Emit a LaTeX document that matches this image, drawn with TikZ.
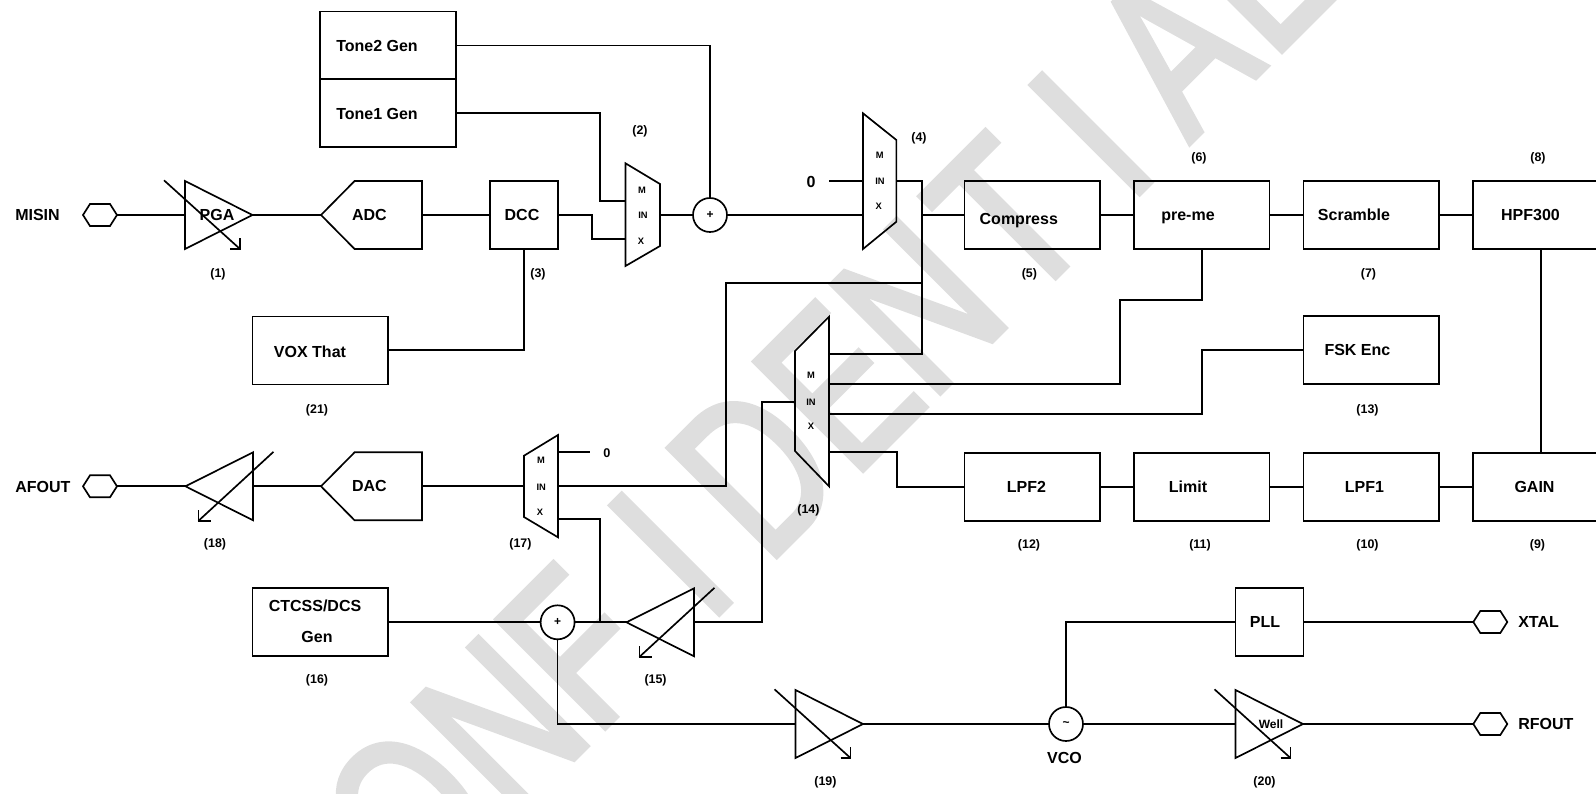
\documentclass[tikz,border=0pt]{standalone}
\usepackage{fontspec}
\setmainfont{Liberation Sans}
\newfontfamily\wmfont[FakeStretch=0.735,FakeBold=2.5]{Liberation Sans}
\tikzset{
  wire/.style={line width=1.25pt,black,line join=miter},
  blk/.style={draw,line width=1.25pt,minimum width=101.6pt,minimum height=51pt,inner sep=0pt,outer sep=0pt},
  sblk/.style={blk,minimum width=51pt},
  sumn/.style={circle,draw,line width=1.25pt,minimum size=25.5pt,inner sep=0pt,outer sep=0pt,font=\fontsize{9}{9}\selectfont\bfseries},
  txt/.style={font=\fontsize{12}{14}\selectfont\bfseries,inner sep=0pt,text height=8.3pt,text depth=0pt},
  tag/.style={font=\fontsize{9.3}{11}\selectfont\bfseries,inner sep=0pt},
  mx/.style={font=\fontsize{7}{8}\selectfont\bfseries,inner sep=0pt},
  wm/.style={font=\wmfont\fontsize{167}{167}\selectfont,text=black!13,inner sep=0pt,rotate=45,anchor=base west}
}
\newcommand\hexport[3]{\begin{scope}[shift={(#2,#3)}]
  \coordinate (#1) at (0,0);\coordinate (#1L) at (-17,0);\coordinate (#1R) at (17,0);
  \draw[wire] (#1L) -- (-10,-11) -- (10,-11) -- (#1R) -- (10,11) -- (-10,11) -- cycle;
\end{scope}}
\newcommand\ampright[3]{\begin{scope}[shift={(#2,#3)}]
  \coordinate (#1L) at (0,0);\coordinate (#1R) at (67.5,0);\coordinate (#1) at (32,0);
  \draw[wire] (0,-34) -- (#1R) -- (0,34) -- cycle;
  \draw[wire] (-21,-34.7) -- (55,34);
  \draw[wire] (45,34) -- (55,34) -- (55,23.3);
\end{scope}}
\newcommand\ampleft[3]{\begin{scope}[shift={(#2,#3)}]
  \coordinate (#1R) at (0,0);\coordinate (#1L) at (-67.5,0);
  \draw[wire] (0,-34) -- (#1L) -- (0,34) -- cycle;
  \draw[wire] (20.5,-34.5) -- (-54.5,34.5);
  \draw[wire] (-42.5,34.5) -- (-54.5,34.5) -- (-54.5,23.5);
\end{scope}}
\newcommand\conv[4]{\begin{scope}[shift={(#2,#3)}]
  \coordinate (#1L) at (0,0);\coordinate (#1R) at (101,0);
  \draw[wire] (#1L) -- (33.6,-34) -- (101,-34) -- (101,34) -- (33.6,34) -- cycle;
  \node[txt] (#1T) at (48.4,0) {#4};
\end{scope}}
\newcommand\kp[1]{\kern #1pt\relax}
\begin{document}
\begin{tikzpicture}[x=0.75pt,y=-0.75pt]
\useasboundingbox (0,0) rectangle (1596,793);
\clip (0,0) rectangle (1596,793);
\node[wm] (wmark) at (331.3,1001.6) {C\kp{4}O\kp{4.2}N\kp{-0.7}F\kp{44.7}I\kp{28.1}D\kp{3.1}EN\kp{12}T\kp{34.5}I\kp{30.4}A\kp{5.8}L};

% blocks
\node[blk] (t2) at (388,45.5) {};
\node[blk] (t1) at (388,113) {};
\node[sblk] (dcc) at (524,215) {};
\node[blk] (vox) at (320.3,350.5) {};
\node[blk] (comp) at (1032.3,215) {};
\node[blk] (prem) at (1201.8,215) {};
\node[blk] (scr) at (1371.3,215) {};
\node[blk] (hpf) at (1540.8,215) {};
\node[blk] (fsk) at (1371.3,350) {};
\node[blk] (lpf2) at (1032.3,487) {};
\node[blk] (lim) at (1201.8,487) {};
\node[blk] (lpf1) at (1371.3,487) {};
\node[blk] (gain) at (1540.8,487) {};
\node[blk] (ctc) at (320.3,622.3) {};
\node[sblk] (pll) at (1269.5,622) {};
\node[sumn] (s1) at (710,215) {+};
\node[sumn] (s2) at (557.6,622.3) {+};
\node[sumn] (vco) at (1066,724) {\textasciitilde};

\hexport{misin}{100}{215}
\hexport{afout}{100}{486.3}
\hexport{xtal}{1490.3}{622}
\hexport{rfout}{1490.3}{724}
\ampright{pga}{185}{215}
\ampright{ag}{795.5}{724}
\ampright{well}{1235.5}{724}
\ampleft{aa}{253}{486.3}
\ampleft{ab}{694}{622.3}
\conv{adc}{321}{215}{ADC}
\conv{dac}{321}{486.3}{DAC}

% muxes
\coordinate (m2a) at (625.5,201.3);\coordinate (m2b) at (625.5,238.7);\coordinate (m2r) at (660,215);
\draw[wire] (625.5,163.3) -- (660,184) -- (660,246) -- (625.5,266) -- cycle;
\coordinate (m4a) at (863,181);\coordinate (m4b) at (863,215);\coordinate (m4r) at (896.4,181);
\draw[wire] (863,113.3) -- (896.4,140) -- (896.4,221.7) -- (863,249) -- cycle;
\coordinate (m14a) at (829,354);\coordinate (m14b) at (829,384.3);\coordinate (m14c) at (829,413.7);
\coordinate (m14l) at (795,402);\coordinate (m14r) at (829,452.3);
\draw[wire] (829,316.7) -- (795,351) -- (795,451) -- (829,486.3) -- cycle;
\coordinate (m17a) at (558,452);\coordinate (m17b) at (558,486.3);\coordinate (m17c) at (558,518.7);\coordinate (m17l) at (524,486.3);
\draw[wire] (558,435) -- (524,455.7) -- (524,517) -- (558,537.3) -- cycle;

\foreach \n/\x/\y/\s in {a1/642/190/M,a2/643/215/IN,a3/641/241/X,
  b1/879.7/155.7/M,b2/880/181/IN,b3/878.7/206.7/X,
  c1/811/375.7/M,c2/811/402/IN,c3/811/426/X,
  d1/541/460.7/M,d2/541.3/487/IN,d3/540/512/X}
  \node[mx] (mx\n) at (\x,\y) {\s};

% connectors
\coordinate (zero4) at (829,181);
\coordinate (zero17) at (590.3,452);
\draw[wire] (misinR) -- (pgaL);
\draw[wire] (pgaR) -- (adcL);
\draw[wire] (adcR) -- (dcc.west);
\draw[wire] (dcc.east) -- (592,215) |- (m2b);
\draw[wire] (t1.east) -| (600,201.3) -- (m2a);
\draw[wire] (t2.east) -| (s1.north);
\draw[wire] (m2r) -- (s1.west);
\draw[wire] (s1.east) -- (m4b);
\draw[wire] (zero4) -- (m4a);
\draw[wire] (m4r) -- (922.3,181) |- (m14a);
\draw[wire] (922.3,215) -- (comp.west);
\draw[wire] (922.3,283) -- (726,283) |- (m17b);
\draw[wire] (dcc.south) -- (524,350) -- (vox.east |- 0,350);
\draw[wire] (comp.east) -- (prem.west);
\draw[wire] (prem.east) -- (scr.west);
\draw[wire] (scr.east) -- (hpf.west);
\draw[wire] (lpf2.east) -- (lim.west);
\draw[wire] (lim.east) -- (lpf1.west);
\draw[wire] (lpf1.east) -- (gain.west);
\draw[wire] (prem.south) -- (1201.8,299.7) -- (1120,299.7) |- (m14b);
\draw[wire] (fsk.west) -- (1201.8,350) |- (m14c);
\draw[wire] (1541,249) -- (1541,453);
\draw[wire] (m14r) -- (897,452.3) |- (lpf2.west);
\draw[wire] (afoutR) -- (aaL);
\draw[wire] (aaR) -- (dacL);
\draw[wire] (dacR) -- (m17l);
\draw[wire] (m17a) -- (zero17);
\draw[wire] (m17c) -- (600,518.7) -- (600,622.3);
\draw[wire] (ctc.east) -- (s2.west);
\draw[wire] (s2.east) -- (abL);
\draw[wire] (abR) -- (762,622.3) |- (m14l);
\draw[wire] (s2.south) |- (agL);
\draw[wire] (agR) -- (vco.west);
\draw[wire] (vco.east) -- (wellL);
\draw[wire] (wellR) -- (rfoutL);
\draw[wire] (vco.north) |- (pll.west);
\draw[wire] (pll.east) -- (xtalL);

% texts
\foreach \n/\x/\y/\s in {q1/377/45.6/Tone2 Gen,q2/377/113.6/Tone1 Gen,q3/217/215/PGA,q4/522/215/DCC,
  q5/310/351.5/VOX That,q6/1018.8/218.5/Compress,q7/1188/214.5/pre-me,q8/1354/215/Scramble,q9/1530.5/215/HPF300,
  q10/1357.4/350/FSK Enc,q11/1026.4/487/LPF2,q12/1188/487/Limit,q13/1364.5/487/LPF1,q14/1534.5/487/GAIN,
  q15/1265/622/PLL,q17/317/637.3/Gen,q18/1064.5/758/VCO,q19/811/182/0}
  {\node[txt] (\n) at (\x,\y) {\s};}
\node[txt] (q16) at (315,606.3) {CTCSS/DCS};
\node[font=\fontsize{9}{9}\selectfont\bfseries,inner sep=0pt] (well0) at (1271,724.7) {Well};
\node[font=\fontsize{9.5}{9}\selectfont\bfseries,inner sep=0pt] (z17) at (607,453) {0};
\foreach \n/\x/\y/\s in {n1/15/215/MISIN,n2/15/486.7/AFOUT,n3/1518/622/XTAL,n4/1518/724/RFOUT}
  \node[txt,anchor=west] (\n) at (\x,\y) {\s};
\foreach \n/\x/\y/\s in {1/218/274,2/640/131,3/538/274,4/919/138,5/1029.4/274,6/1199/158,7/1368.5/274,8/1538/158,
  9/1537.5/545,10/1367.5/545,11/1200/545,12/1029/545,13/1367.5/410,14/808.4/510.7,15/655.6/680.3,16/317/680.3,
  17/520.4/544.7,18/215/544.7,19/825.4/782,20/1264.5/782,21/317/410}
  \node[tag] (tag\n) at (\x,\y) {(\n)};
\end{tikzpicture}
\end{document}
